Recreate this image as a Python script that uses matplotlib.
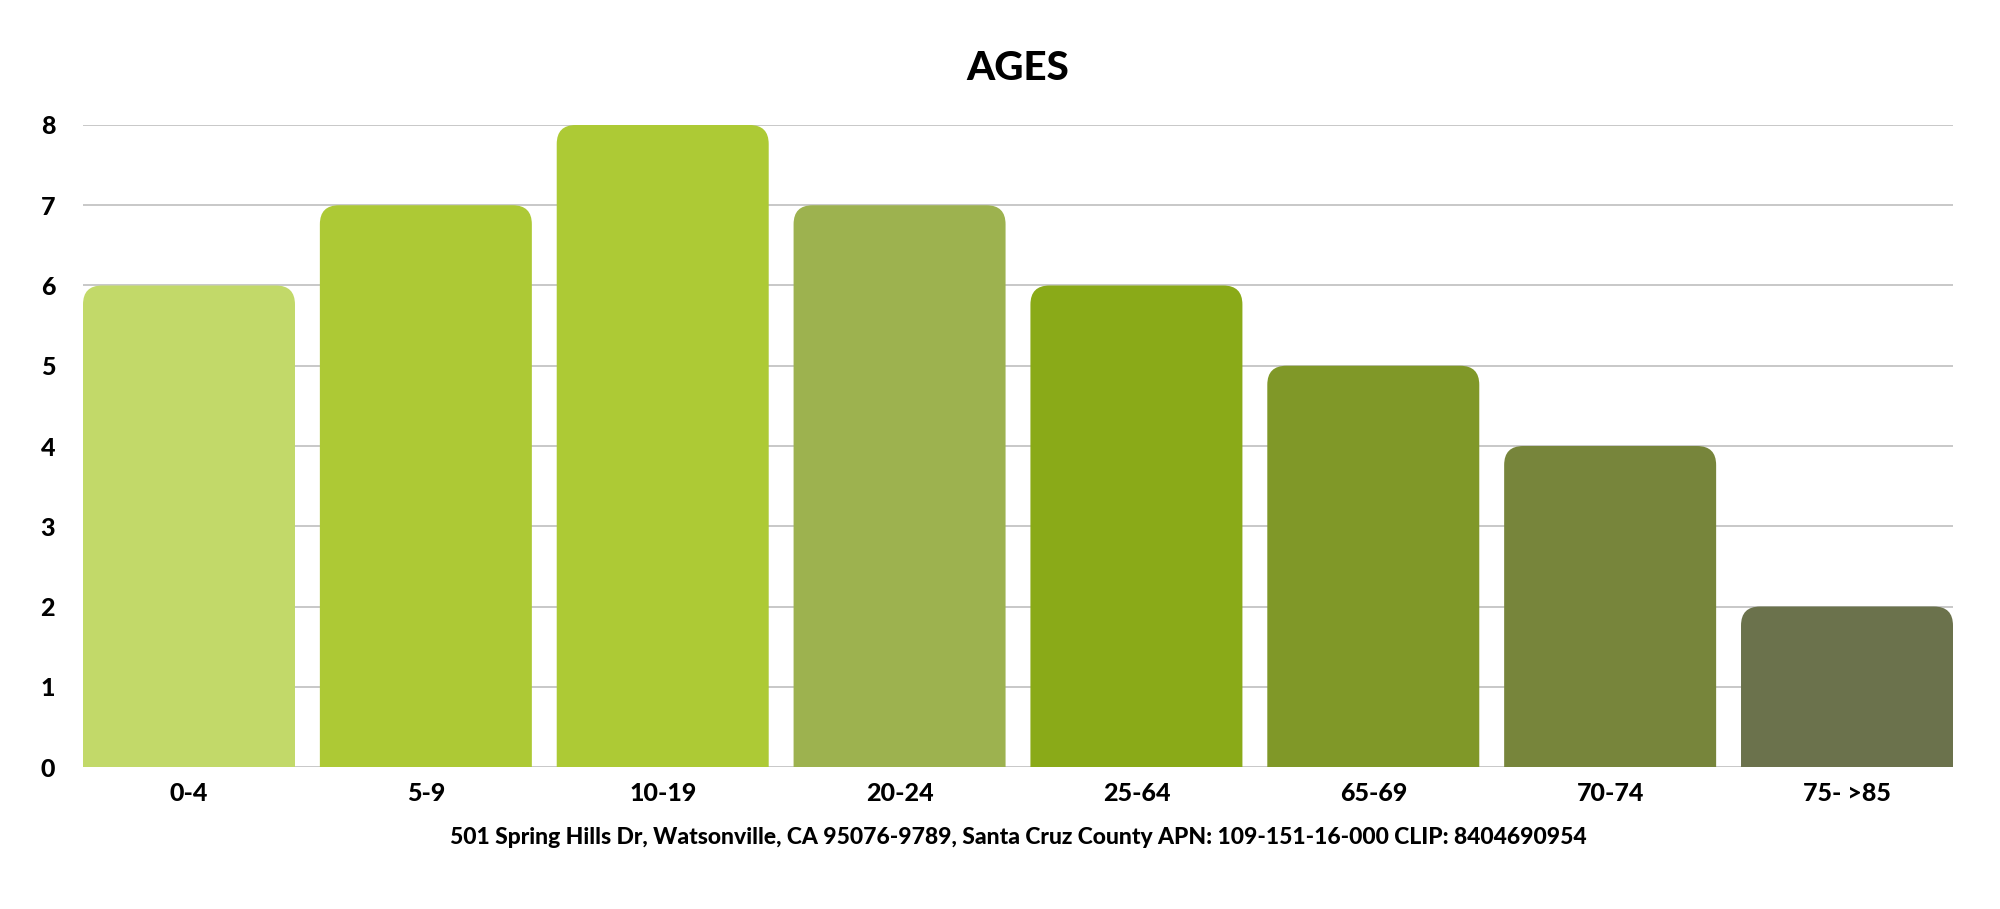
import matplotlib
matplotlib.use('Agg')
from matplotlib import pyplot as plt
from matplotlib.patches import FancyBboxPatch

plt.rcParams['font.family'] = ['Lato', 'DejaVu Sans']
plt.rcParams['font.weight'] = 'black'

age_groups = ['0-4', '5-9', '10-19', '20-24', '25-64', '65-69', '70-74', '75- >85']
counts = [6, 7, 8, 7, 6, 5, 4, 2]
bar_colors = ['#c2d969', '#adc935', '#adca35', '#9db24f',
              '#8aaa18', '#809828', '#77853b', '#6b724c']
title = 'AGES'
footer = ('501 Spring Hills Dr, Watsonville, CA 95076-9789, Santa Cruz County '
          'APN: 109-151-16-000 CLIP: 8404690954')

fig = plt.figure(figsize=(20, 9.09), dpi=100)
ax = fig.add_axes([0.0415, 0.1562, 0.935, 0.7063])

bar_width = 0.895
positions = range(len(age_groups))
bars = ax.bar(positions, counts, width=bar_width, color=bar_colors, zorder=2)
ax.set_xlim(-bar_width / 2, len(age_groups) - 1 + bar_width / 2)
ax.set_ylim(0, 8)

# swap plain rectangles for ones with rounded top corners
fig.canvas.draw()
p0 = ax.transData.transform((0, 0))
p1 = ax.transData.transform((1, 1))
x_per_px = 1 / (p1[0] - p0[0])
y_per_px = 1 / (p1[1] - p0[1])
radius_px = 19
for rect in bars:
    rect.set_visible(False)
    x0, w, h = rect.get_x(), rect.get_width(), rect.get_height()
    extra = 1.0
    patch = FancyBboxPatch((x0, -extra), w, h + extra,
                           boxstyle=f'round,pad=0,rounding_size={radius_px * x_per_px}',
                           mutation_aspect=y_per_px / x_per_px,
                           facecolor=rect.get_facecolor(), edgecolor='none',
                           zorder=2)
    ax.add_patch(patch)

ax.set_yticks(range(0, 9))
ax.set_xticks(list(positions))
ax.set_xticklabels(age_groups)
for lbl in ax.get_xticklabels() + ax.get_yticklabels():
    lbl.set_fontweight('black')
ax.tick_params(axis='both', length=0, labelsize=18)
ax.tick_params(axis='y', pad=20)
ax.tick_params(axis='x', pad=11)
ax.grid(axis='y', color='#c4c4c4', linewidth=1.3, zorder=0)
ax.set_axisbelow(True)
for spine in ax.spines.values():
    spine.set_visible(False)

fig.text(0.509, 0.925, title, ha='center', va='center', fontsize=29, fontweight='black')
fig.text(0.509, 0.079, footer, ha='center', va='center', fontsize=16.5, fontweight='black')

fig.savefig('out.png', dpi=100, facecolor='white')
